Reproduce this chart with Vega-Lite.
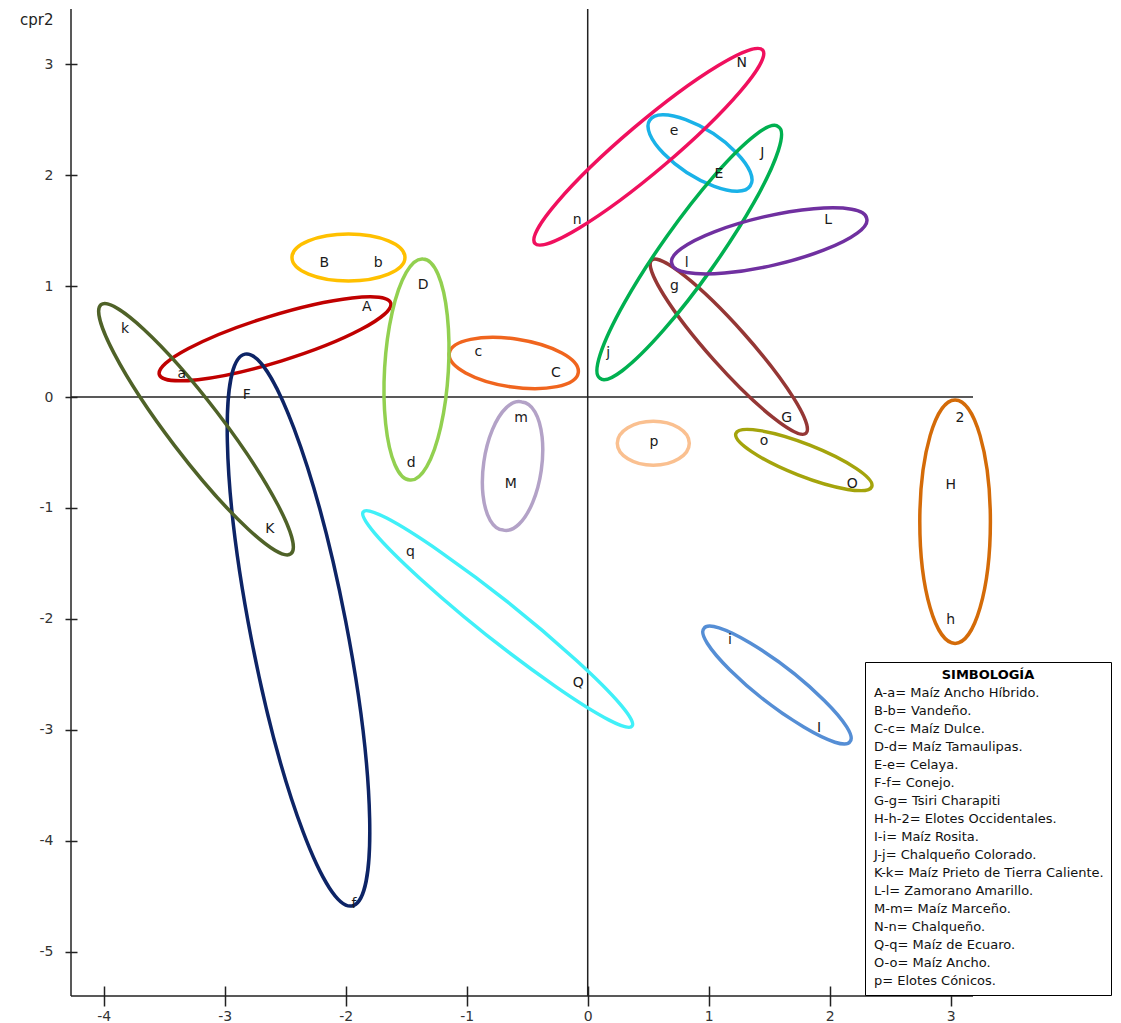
{
  "$schema": "https://vega.github.io/schema/vega-lite/v6.json",
  "width": 902,
  "height": 987,
  "autosize": "none",
  "padding": {"left": 71, "top": 9, "right": 148, "bottom": 27},
  "background": "white",
  "config": {
    "view": {"stroke": null},
    "font": "DejaVu Sans",
    "axis": {"grid": false, "domain": false, "tickColor": "#222", "tickWidth": 1.5, "labelColor": "#333", "labelFontSize": 14, "labelFont": "DejaVu Sans"}
  },
  "datasets": {
    "pts": [
      {"lab": "N", "x": 1.273, "y": 3.009},
      {"lab": "e", "x": 0.713, "y": 2.401},
      {"lab": "J", "x": 1.443, "y": 2.197},
      {"lab": "E", "x": 1.085, "y": 2.008},
      {"lab": "n", "x": -0.086, "y": 1.596},
      {"lab": "L", "x": 1.988, "y": 1.596},
      {"lab": "l", "x": 0.818, "y": 1.206},
      {"lab": "g", "x": 0.716, "y": 1.001},
      {"lab": "j", "x": 0.17, "y": 0.401},
      {"lab": "B", "x": -2.177, "y": 1.206},
      {"lab": "b", "x": -1.731, "y": 1.206},
      {"lab": "D", "x": -1.359, "y": 1.01},
      {"lab": "A", "x": -1.826, "y": 0.809},
      {"lab": "k", "x": -3.824, "y": 0.61},
      {"lab": "a", "x": -3.355, "y": 0.207},
      {"lab": "F", "x": -2.818, "y": 0.018},
      {"lab": "c", "x": -0.904, "y": 0.408},
      {"lab": "C", "x": -0.262, "y": 0.221},
      {"lab": "m", "x": -0.551, "y": -0.192},
      {"lab": "M", "x": -0.636, "y": -0.784},
      {"lab": "d", "x": -1.458, "y": -0.591},
      {"lab": "p", "x": 0.548, "y": -0.408},
      {"lab": "G", "x": 1.645, "y": -0.187},
      {"lab": "o", "x": 1.457, "y": -0.394},
      {"lab": "O", "x": 2.187, "y": -0.784},
      {"lab": "2", "x": 3.077, "y": -0.192},
      {"lab": "H", "x": 3.0, "y": -0.794},
      {"lab": "h", "x": 3.0, "y": -2.011},
      {"lab": "K", "x": -2.626, "y": -1.193},
      {"lab": "q", "x": -1.464, "y": -1.399},
      {"lab": "i", "x": 1.176, "y": -2.191},
      {"lab": "I", "x": 1.912, "y": -2.982},
      {"lab": "Q", "x": -0.078, "y": -2.576},
      {"lab": "f", "x": -1.931, "y": -4.572}
    ],
    "grps": [
      {"grp": "A", "cx": -2.584, "cy": 0.525, "legend": "A-a= Maíz Ancho Híbrido."},
      {"grp": "B", "cx": -1.977, "cy": 1.258, "legend": "B-b= Vandeño."},
      {"grp": "C", "cx": -0.611, "cy": 0.307, "legend": "C-c= Maíz Dulce."},
      {"grp": "D", "cx": -1.415, "cy": 0.248, "legend": "D-d= Maíz Tamaulipas."},
      {"grp": "E", "cx": 0.928, "cy": 2.2, "legend": "E-e= Celaya."},
      {"grp": "F", "cx": -2.39, "cy": -2.101, "legend": "F-f= Conejo."},
      {"grp": "G", "cx": 1.166, "cy": 0.454, "legend": "G-g= Tsiri Charapiti"},
      {"grp": "H", "cx": 3.036, "cy": -1.124, "legend": "H-h-2= Elotes Occidentales."},
      {"grp": "I", "cx": 1.564, "cy": -2.597, "legend": "I-i= Maíz Rosita."},
      {"grp": "J", "cx": 0.839, "cy": 1.303, "legend": "J-j= Chalqueño Colorado."},
      {"grp": "K", "cx": -3.237, "cy": -0.29, "legend": "K-k= Maíz Prieto de Tierra Caliente."},
      {"grp": "L", "cx": 1.5, "cy": 1.408, "legend": "L-l= Zamorano Amarillo."},
      {"grp": "M", "cx": -0.621, "cy": -0.622, "legend": "M-m= Maíz Marceño."},
      {"grp": "N", "cx": 0.505, "cy": 2.257, "legend": "N-n= Chalqueño."},
      {"grp": "Q", "cx": -0.744, "cy": -2.001, "legend": "Q-q= Maíz de Ecuaro."},
      {"grp": "O", "cx": 1.786, "cy": -0.568, "legend": "O-o= Maíz Ancho."},
      {"grp": "p", "cx": 0.542, "cy": -0.417, "legend": "p= Elotes Cónicos."}
    ]
  },
  "resolve": {"scale": {"color": "independent", "shape": "independent"}, "legend": {"color": "independent"}},
  "layer": [
    {
      "data": {"values": [{}]},
      "mark": {"type": "rule", "color": "#222", "strokeWidth": 1.5},
      "encoding": {"x": {"datum": 0, "type": "quantitative", "scale": {"domain": [-4.27, 3.184], "nice": false, "zero": false}}}
    },
    {
      "data": {"values": [{}]},
      "mark": {"type": "rule", "color": "#222", "strokeWidth": 1.5},
      "encoding": {"x": {"datum": -4.27, "type": "quantitative", "scale": {"domain": [-4.27, 3.184], "nice": false, "zero": false}}}
    },
    {
      "data": {"values": [{}]},
      "mark": {"type": "rule", "color": "#222", "strokeWidth": 1.5},
      "encoding": {"y": {"datum": 0, "type": "quantitative", "scale": {"domain": [-5.401, 3.499], "nice": false, "zero": false}}}
    },
    {
      "data": {"values": [{}]},
      "mark": {"type": "rule", "color": "#222", "strokeWidth": 1.5},
      "encoding": {"y": {"datum": -5.401, "type": "quantitative", "scale": {"domain": [-5.401, 3.499], "nice": false, "zero": false}}}
    },
    {
      "data": {"name": "grps"},
      "mark": {"type": "point", "filled": false, "size": 4, "strokeWidth": 3.5, "opacity": 1},
      "encoding": {
        "x": {"field": "cx", "type": "quantitative", "scale": {"domain": [-4.27, 3.184], "nice": false, "zero": false}},
        "y": {"field": "cy", "type": "quantitative", "scale": {"domain": [-5.401, 3.499], "nice": false, "zero": false}},
        "color": {"field": "grp", "type": "nominal", "legend": null, "scale": {
          "domain": ["A","B","C","D","E","F","G","H","I","J","K","L","M","N","O","p","Q"],
          "range": ["#c00000","#ffc000","#f0651e","#92d050","#1ab2e8","#0d2466","#953735","#d46b08","#558ed5","#00b050","#4f6228","#7030a0","#b3a2c7","#f0105e","#a4a40c","#fac090","#40f0f8"]}},
        "shape": {"field": "grp", "type": "nominal", "legend": null, "scale": {
          "domain": ["A","B","C","D","E","F","G","H","I","J","K","L","M","N","O","p","Q"],
          "range": [
            "M-115.7,35.8A121.1,23,-17.2,1,0,115.7,-35.8A121.1,23,-17.2,1,0,-115.7,35.8Z",
            "M-56.5,0A56.5,23.5,0,1,0,56.5,0A56.5,23.5,0,1,0,-56.5,0Z",
            "M-64.5,-9.7A65.2,24,8.55,1,0,64.5,9.7A65.2,24,8.55,1,0,-64.5,-9.7Z",
            "M6.5,-110.5A110.7,31.5,93.37,1,0,-6.5,110.5A110.7,31.5,93.37,1,0,6.5,-110.5Z",
            "M-50.3,-32.7A60,23,33,1,0,50.3,32.7A60,23,33,1,0,-50.3,-32.7Z",
            "M-53.5,-275.9A281,48,79.03,1,0,53.5,275.9A281,48,79.03,1,0,-53.5,-275.9Z",
            "M-77.2,-86.6A116,20,48.3,1,0,77.2,86.6A116,20,48.3,1,0,-77.2,-86.6Z",
            "M0,-121.7A35.3,121.7,0,1,0,0,121.7A35.3,121.7,0,1,0,0,-121.7Z",
            "M-73,-56.6A92.4,19,37.8,1,0,73,56.6A92.4,19,37.8,1,0,-73,-56.6Z",
            "M-89.1,125.8A154.2,27,-54.7,1,0,89.1,-125.8A154.2,27,-54.7,1,0,-89.1,125.8Z",
            "M-95,-124.5A156.6,27,52.7,1,0,95,124.5A156.6,27,52.7,1,0,-95,-124.5Z",
            "M-97.4,22.5A100,24,-13,1,0,97.4,-22.5A100,24,-13,1,0,-97.4,22.5Z",
            "M9.2,-64.1A64.8,28,98.16,1,0,-9.2,64.1A64.8,28,98.16,1,0,9.2,-64.1Z",
            "M-113.9,96.6A149.3,24,-40.3,1,0,113.9,-96.6A149.3,24,-40.3,1,0,-113.9,96.6Z",
            "M-67.9,-26.7A72.9,16,21.45,1,0,67.9,26.7A72.9,16,21.45,1,0,-67.9,-26.7Z",
            "M-36,0A36,22,0,1,0,36,0A36,22,0,1,0,-36,0Z",
            "M-134.3,-107.1A171.8,19,38.57,1,0,134.3,107.1A171.8,19,38.57,1,0,-134.3,-107.1Z"
          ]}}
      }
    },
    {
      "data": {"name": "pts"},
      "mark": {"type": "text", "fontSize": 14, "font": "DejaVu Sans", "color": "#1a1a1a"},
      "encoding": {
        "x": {"field": "x", "type": "quantitative", "scale": {"domain": [-4.27, 3.184], "nice": false, "zero": false},
          "axis": {"title": null, "values": [-4,-3,-2,-1,0,1,2,3], "offset": -10, "tickSize": 20, "labelPadding": 3, "labelExpr": "'' + datum.value"}},
        "y": {"field": "y", "type": "quantitative", "scale": {"domain": [-5.401, 3.499], "nice": false, "zero": false},
          "axis": {"title": "cpr2", "values": [-5,-4,-3,-2,-1,0,1,2,3], "offset": -6, "tickSize": 12, "labelPadding": 12, "labelExpr": "'' + datum.value",
            "titleAngle": 0, "titleAlign": "right", "titleBaseline": "middle", "titleX": -24, "titleY": 10, "titleFontSize": 15, "titleFontWeight": "normal", "titleColor": "#222", "titleFont": "DejaVu Sans"}},
        "text": {"field": "lab", "type": "nominal"}
      }
    },
    {
      "data": {"name": "grps"},
      "mark": {"type": "point", "opacity": 0, "size": 0},
      "encoding": {
        "color": {"field": "legend", "type": "nominal", "scale": {"domain": [
          "A-a= Maíz Ancho Híbrido.","B-b= Vandeño.","C-c= Maíz Dulce.","D-d= Maíz Tamaulipas.","E-e= Celaya.","F-f= Conejo.","G-g= Tsiri Charapiti","H-h-2= Elotes Occidentales.","I-i= Maíz Rosita.","J-j= Chalqueño Colorado.","K-k= Maíz Prieto de Tierra Caliente.","L-l= Zamorano Amarillo.","M-m= Maíz Marceño.","N-n= Chalqueño.","Q-q= Maíz de Ecuaro.","O-o= Maíz Ancho.","p= Elotes Cónicos."]},
          "legend": {"title": "SIMBOLOGÍA", "orient": "none", "legendX": 794, "legendY": 653, "titleFontSize": 13, "titleFontWeight": "bold", "titleFont": "DejaVu Sans", "titleColor": "#000", "titleAnchor": "middle", "titlePadding": 4,
            "labelFont": "DejaVu Sans", "labelFontSize": 13, "labelColor": "#111", "labelLimit": 400, "labelOffset": -11,
            "symbolSize": 0, "symbolOpacity": 0, "symbolStrokeWidth": 0, "rowPadding": 4,
            "strokeColor": "#000", "fillColor": "#fff", "padding": 7}}
      }
    }
  ]
}
